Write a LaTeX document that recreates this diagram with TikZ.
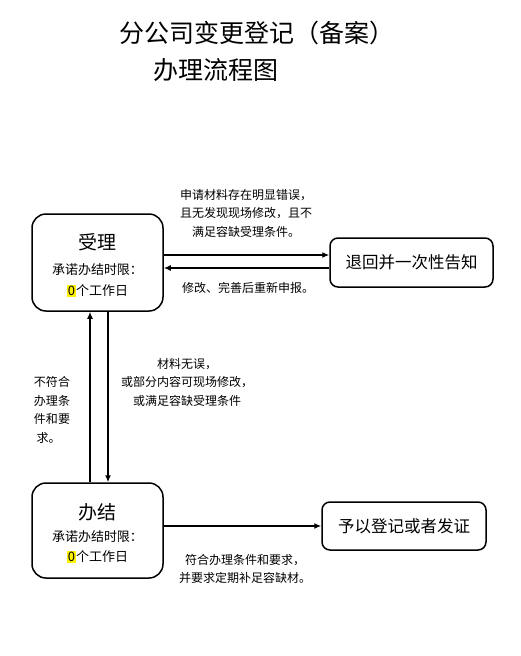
\documentclass[tikz,border=0pt]{standalone}
\usepackage{fontspec}
\setmainfont{Noto Sans CJK SC}
\usetikzlibrary{arrows.meta}
\newcommand{\hl}[1]{{\setlength{\fboxsep}{1pt}\colorbox{yellow}{#1}}}
\begin{document}
\begin{tikzpicture}[x=1pt,y=-1pt,
  bigbox/.style={draw,line width=1.5pt,rounded corners=14pt,align=center,inner sep=0pt},
  smallbox/.style={draw,line width=1.5pt,rounded corners=8pt,align=center,inner sep=0pt,font=\fontsize{16.5}{18}\selectfont},
  lbl/.style={align=center,font=\fontsize{12}{18.5}\selectfont,inner sep=0pt},
  inlbl/.style={align=center,font=\fontsize{13}{16}\selectfont,inner sep=0pt},
  arr/.style={line width=1.4pt,-{Latex[length=7pt,width=6pt]}}]
\useasboundingbox (0,0) rectangle (520,656);
\node[font=\fontsize{25}{28}\selectfont] (t1) at (257,33) {分公司变更登记（备案）};
\node[font=\fontsize{25}{28}\selectfont] (t2) at (216,70) {办理流程图};

\node[bigbox,minimum width=131pt,minimum height=97pt] (acc) at (97.5,262.5) {};
\node[font=\fontsize{19}{21}\selectfont] (acct) at (97.5,242) {受理};
\node[inlbl] (acc2) at (97.5,270) {承诺办结时限：};
\node[inlbl] (acc3) at (97.5,291) {\hl{0}个工作日};

\node[smallbox,minimum width=163pt,minimum height=49pt] (ret) at (411.5,262.5) {退回并一次性告知};

\node[bigbox,minimum width=131pt,minimum height=95pt] (ban) at (97.5,530.5) {};
\node[font=\fontsize{19}{21}\selectfont] (bant) at (97.5,512) {办结};
\node[inlbl] (ban2) at (97.5,537) {承诺办结时限：};
\node[inlbl] (ban3) at (97.5,557) {\hl{0}个工作日};

\node[smallbox,minimum width=164pt,minimum height=48pt] (ok) at (404,526) {予以登记或者发证};

\draw[arr] ([yshift=7.5pt]acc.east) -- ([yshift=7.5pt]ret.west);
\draw[arr] ([yshift=-5.5pt]ret.west) -- ([yshift=-5.5pt]acc.east);
\draw[arr] ([xshift=-7.5pt]ban.north) -- ([xshift=-7.5pt]acc.south);
\draw[arr] ([xshift=10.5pt]acc.south) -- ([xshift=10.5pt]ban.north);
\draw[arr] ([yshift=4.5pt]ban.east) -- (ok.west);

\node[lbl] (l1) at (246,213) {申请材料存在明显错误，\\且无发现现场修改，且不\\满足容缺受理条件。};
\node[lbl] (l2) at (248,288) {修改、完善后重新申报。};
\node[lbl,align=left] (l3) at (52,410) {不符合\\办理条\\件和要\\\ 求。};
\node[lbl] (l4) at (187,382) {材料无误，\\或部分内容可现场修改，\\或满足容缺受理条件};
\node[lbl] (l5) at (245,569) {符合办理条件和要求，\\并要求定期补足容缺材。};
\end{tikzpicture}
\end{document}
